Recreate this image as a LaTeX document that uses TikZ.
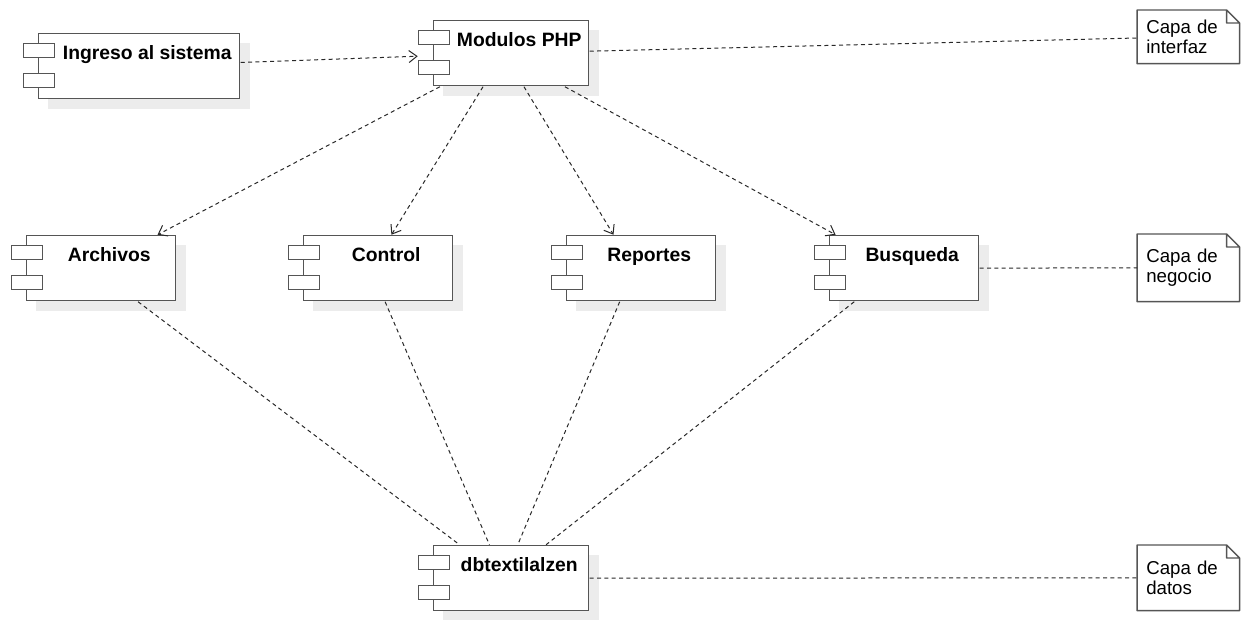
\documentclass[tikz,border=0pt]{standalone}
\usepackage{fontspec}
\setmainfont{Liberation Sans}
\usetikzlibrary{arrows.meta, positioning, fit, backgrounds}

\definecolor{boxgray}{RGB}{85, 85, 85}
\definecolor{shadegray}{RGB}{236, 236, 236}
\definecolor{linegray}{RGB}{40, 40, 40}

\tikzset{
  compbox/.style={draw=boxgray, line width=1.1pt, fill=white, anchor=north west, inner sep=0pt,
    minimum height=48.75pt, text height=10pt, text depth=19.75pt,
    font=\fontsize{14.5pt}{16pt}\selectfont\bfseries, execute at begin node={\hspace*{12pt}}},
  comptab/.style={draw=boxgray, line width=1.1pt, fill=white, anchor=north west, inner sep=0pt,
    minimum width=23.25pt, minimum height=10.5pt},
  compall/.style={inner sep=0pt, draw=none},
  capa/.style={anchor=north west, minimum width=76.5pt, text width=63pt, inner xsep=6.75pt,
    inner ysep=0pt, align=left, font=\fontsize{14pt}{15pt}\selectfont},
  notepen/.style={draw=boxgray, line width=1.1pt, line join=round},
  uses/.style={linegray, line width=0.75pt, dash pattern=on 3pt off 2.5pt},
  dep/.style={uses, -{Straight Barb[length=6pt, width=9pt]}},
}

\begin{document}
\begin{tikzpicture}[x=0.75pt, y=-0.75pt]
  \useasboundingbox (0,0) rectangle (1252,619);

  % componentes
  \node[compbox, minimum width=150.75pt] (ing) at (38,33) {Ingreso al sistema};
  \node[compbox, minimum width=116.25pt] (mod) at (433,20) {Modulos PHP};
  \node[compbox, minimum width=111.75pt] (arc) at (26,235) {Archivos};
  \node[compbox, minimum width=111.75pt] (ctl) at (303,235) {Control};
  \node[compbox, minimum width=111.75pt] (rep) at (566,235) {Reportes};
  \node[compbox, minimum width=111.75pt] (bus) at (829,235) {Busqueda};
  \node[compbox, minimum width=116.25pt] (db) at (433,545) {dbtextilalzen};

  % pestanas y contorno completo de cada componente
  \foreach \comp in {ing,mod,arc,ctl,rep,bus,db}{
    \node[comptab] (\comp1) at ([shift={(-15,10)}]\comp.north west) {};
    \node[comptab] (\comp2) at ([shift={(-15,40)}]\comp.north west) {};
    \node[compall, fit=(\comp)(\comp1)(\comp2)] (\comp-all) {};
  }

  % sombras
  \begin{scope}[on background layer]
    \foreach \comp in {ing,mod,arc,ctl,rep,bus,db}
      \fill[shadegray] ([shift={(10,10)}]\comp.north west) rectangle ([shift={(10,10)}]\comp.south east);
  \end{scope}

  % notas de capas
  \node[capa, minimum height=39.75pt] (nint) at (1137,10) {Capa de\\interfaz};
  \node[capa, minimum height=50.25pt] (nneg) at (1137,234) {Capa de\\negocio};
  \node[capa, minimum height=48.75pt] (ndat) at (1137,545) {Capa de\\datos};
  \foreach \nota in {nint,nneg,ndat}
    \draw[notepen] (\nota.north west) -- ([xshift=-9.75pt]\nota.north east)
      -- ([yshift=-9.75pt]\nota.north east) -- (\nota.south east) -- (\nota.south west) -- cycle
      ([xshift=-9.75pt]\nota.north east) |- ([yshift=-9.75pt]\nota.north east);

  % dependencias
  \draw[dep] (ing-all) -- (mod-all);
  \foreach \dest in {arc,ctl,rep,bus}
    \draw[dep] (mod-all) -- (\dest-all);
  \foreach \src in {arc,ctl,rep,bus}
    \draw[uses] (\src-all) -- (db-all);
  \draw[uses] (mod-all) -- (nint);
  \draw[uses] (bus-all) -- (nneg);
  \draw[uses] (db-all) -- (ndat);
\end{tikzpicture}
\end{document}
